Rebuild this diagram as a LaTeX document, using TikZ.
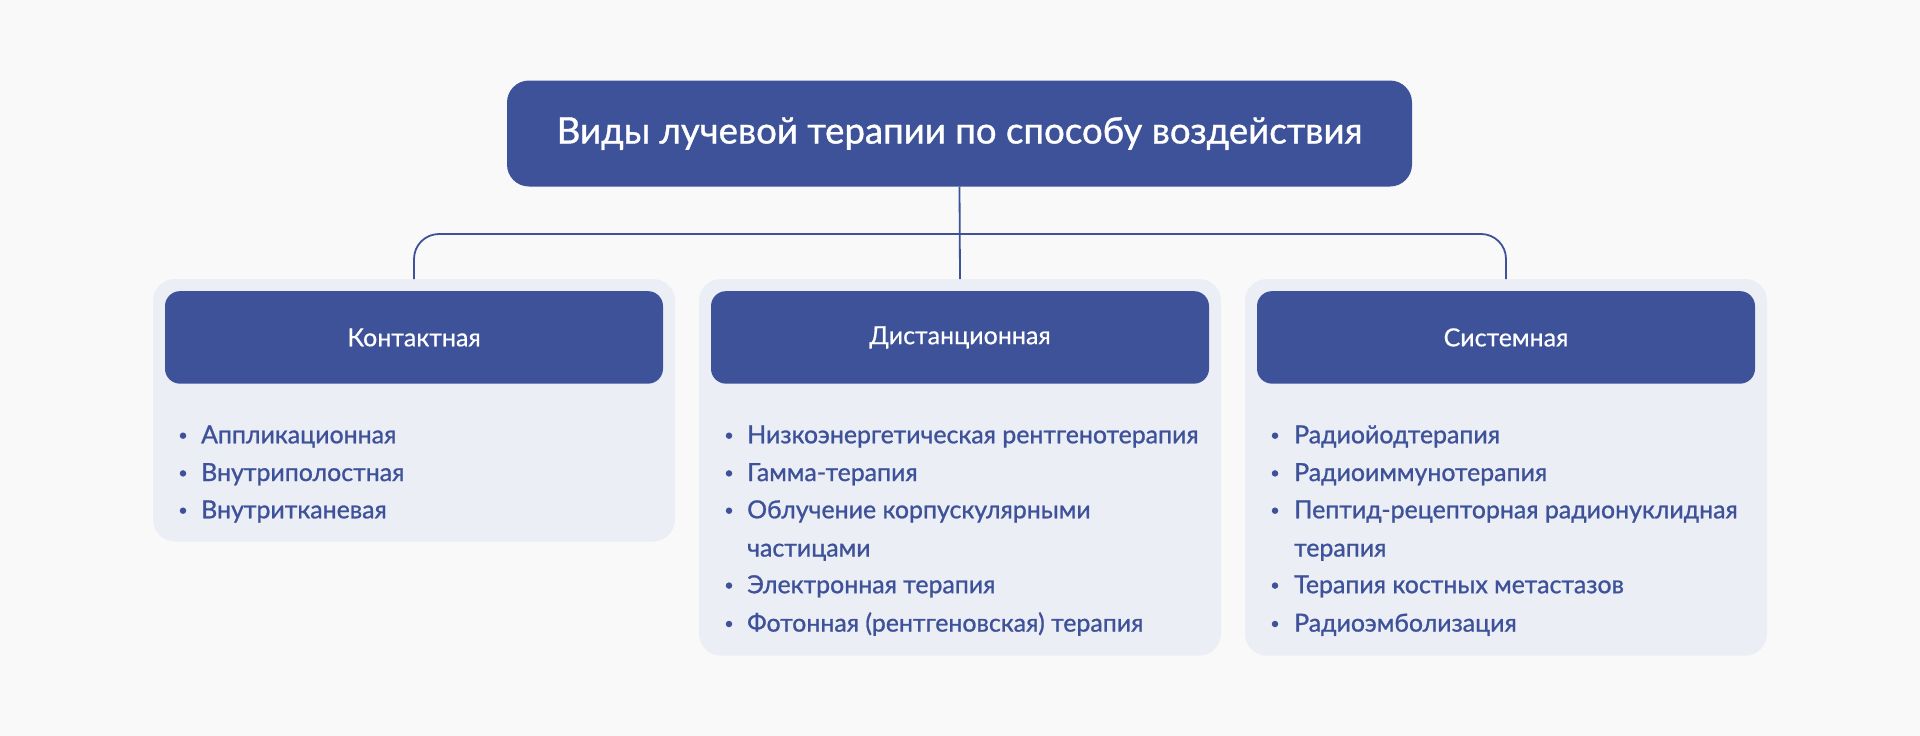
\documentclass[tikz,border=0pt]{standalone}
\usepackage{fontspec}
\setmainfont{Lato}
\newfontfamily\medfont{Lato}[FakeBold=1.0]
\newfontfamily\headfont{Lato}[FakeBold=0.5]
\definecolor{navy}{HTML}{3D5299}
\definecolor{panelbg}{HTML}{ECEEF6}
\definecolor{pagebg}{HTML}{F9F9F9}
\begin{document}
\begin{tikzpicture}[x=1pt,y=-1pt,
  titlebox/.style={fill=navy, text=white, rounded corners=22pt, inner sep=0pt, outer sep=0pt,
    minimum width=905pt, minimum height=106pt, font=\medfont\fontsize{36.6}{42}\selectfont},
  panel/.style={fill=panelbg, rounded corners=22pt, inner sep=0pt, outer sep=0pt, minimum width=522pt},
  headbox/.style={fill=navy, text=white, rounded corners=15pt, inner sep=0pt, outer sep=0pt,
    minimum width=498pt, minimum height=92.5pt, font=\headfont\fontsize{25}{28}\selectfont},
  item/.style={anchor=base west, inner sep=0pt, text=navy, font=\medfont\fontsize{24.9}{28}\selectfont},
  bul/.style={circle, fill=navy, inner sep=0pt, minimum size=6.5pt},
  conn/.style={draw=navy, line width=1.8pt}]
\fill[pagebg] (0,0) rectangle (1920,736);
\useasboundingbox (0,0) rectangle (1920,736);

\node[titlebox] (title) at (959.5,133.5) {Виды лучевой терапии по способу воздействия};

\node[panel, minimum height=262.5pt] (p1) at (414,410.25) {};
\node[panel, minimum height=376.7pt] (p2) at (960,467.35) {};
\node[panel, minimum height=376.7pt] (p3) at (1506,467.35) {};

\node[headbox] (h1) at (414,337.4) {Контактная};
\node[headbox] (h2) at (960,337.4) {Дистанционная};
\node[headbox] (h3) at (1506,337.4) {Системная};

\coordinate (j) at (960,234);
\draw[conn] (title.south) -- (p2.north);
\draw[conn, rounded corners=25pt] (p1.north) |- (j) -| (p3.north);

% left list
\node[bul] (b11) at (183,435.7) {};
\node[item] (a11) at (201,443.3) {Аппликационная};
\node[bul] (b12) at (183,473.4) {};
\node[item] (a12) at (201,481) {Внутриполостная};
\node[bul] (b13) at (183,510.7) {};
\node[item] (a13) at (201,518.3) {Внутритканевая};

% middle list
\node[bul] (b21) at (729,435.7) {};
\node[item] (a21) at (747,443.3) {Низкоэнергетическая рентгенотерапия};
\node[bul] (b22) at (729,473.4) {};
\node[item] (a22) at (747,481) {Гамма-терапия};
\node[bul] (b23) at (729,510.7) {};
\node[item] (a23) at (747,518.3) {Облучение корпускулярными};
\node[item] (a23b) at (747,556.5) {частицами};
\node[bul] (b24) at (729,585.6) {};
\node[item] (a24) at (747,593.2) {Электронная терапия};
\node[bul] (b25) at (729,624) {};
\node[item] (a25) at (747,631.6) {Фотонная (рентгеновская) терапия};

% right list
\node[bul] (b31) at (1275,435.7) {};
\node[item] (a31) at (1294,443.3) {Радиойодтерапия};
\node[bul] (b32) at (1275,473.4) {};
\node[item] (a32) at (1294,481) {Радиоиммунотерапия};
\node[bul] (b33) at (1275,510.7) {};
\node[item] (a33) at (1294,518.3) {Пептид-рецепторная радионуклидная};
\node[item] (a33b) at (1294,556.5) {терапия};
\node[bul] (b34) at (1275,585.6) {};
\node[item] (a34) at (1294,593.2) {Терапия костных метастазов};
\node[bul] (b35) at (1275,624) {};
\node[item] (a35) at (1294,631.6) {Радиоэмболизация};
\end{tikzpicture}
\end{document}
